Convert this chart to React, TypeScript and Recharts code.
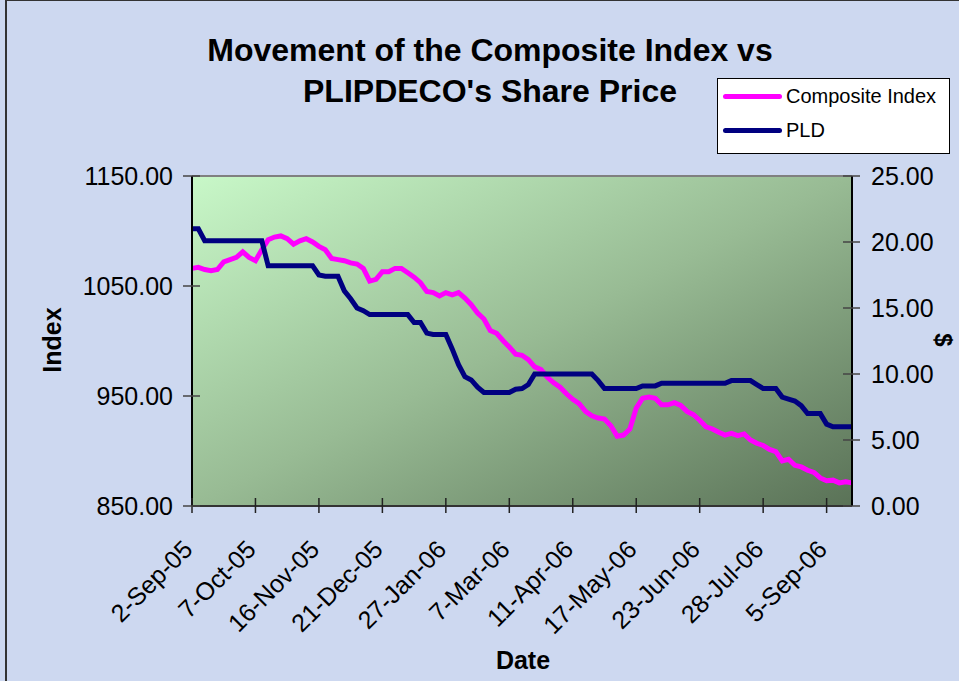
import React from "react";
import {
  LineChart,
  Line,
  XAxis,
  YAxis,
  CartesianGrid,
  ReferenceLine,
} from "recharts";

// values, one per plotted step
const compositeIndex = [
  1066, 1067, 1065, 1064, 1065, 1072, 1074, 1076, 1081, 1076,
  1073, 1083, 1092, 1094.5, 1095.5, 1093, 1088, 1091, 1093, 1090,
  1086, 1083, 1075, 1074, 1073, 1071, 1070, 1066, 1054.5, 1056,
  1063, 1063, 1066, 1066, 1062, 1058, 1053, 1045, 1044, 1041,
  1044, 1042, 1044, 1039, 1033, 1025.5, 1020, 1009.5, 1007, 1000.5,
  994.5, 988, 987, 983, 976.5, 974, 967, 962, 958, 952,
  947, 943, 936, 932, 930, 929, 923, 913.5, 914.5, 920,
  939, 948, 949, 948, 942, 942, 944, 941.5, 936, 933,
  928, 922, 920, 917, 914.5, 916, 914, 915.5, 910, 907,
  905, 901.5, 899.5, 891, 892.5, 887, 885.5, 882.5, 880.5, 875.5,
  873, 873.5, 871, 872, 871,
];

const pld = [
  21.0, 21.0, 20.1, 20.1, 20.1, 20.1, 20.1, 20.1, 20.1, 20.1,
  20.1, 20.1, 18.2, 18.2, 18.2, 18.2, 18.2, 18.2, 18.2, 18.2,
  17.5, 17.4, 17.4, 17.4, 16.3, 15.7, 15.0, 14.8, 14.5, 14.5,
  14.5, 14.5, 14.5, 14.5, 14.5, 13.9, 13.9, 13.1, 13.0, 13.0,
  13.0, 11.9, 10.7, 9.8, 9.55, 9.0, 8.6, 8.6, 8.6, 8.6,
  8.6, 8.85, 8.9, 9.2, 10.0, 10.0, 10.0, 10.0, 10.0, 10.0,
  10.0, 10.0, 10.0, 10.0, 9.5, 8.9, 8.9, 8.9, 8.9, 8.9,
  8.9, 9.1, 9.1, 9.1, 9.3, 9.3, 9.3, 9.3, 9.3, 9.3,
  9.3, 9.3, 9.3, 9.3, 9.3, 9.5, 9.5, 9.5, 9.5, 9.2,
  8.9, 8.9, 8.9, 8.25, 8.1, 7.95, 7.6, 7.0, 7.0, 7.0,
  6.2, 6.0, 6.0, 6.0, 6.0,
];

const xTickLabels = [
  "2-Sep-05",
  "7-Oct-05",
  "16-Nov-05",
  "21-Dec-05",
  "27-Jan-06",
  "7-Mar-06",
  "11-Apr-06",
  "17-May-06",
  "23-Jun-06",
  "28-Jul-06",
  "5-Sep-06",
];
const xTickStep = 10;
const leftTicks = [850, 950, 1050, 1150];
const rightTicks = [0, 5, 10, 15, 20, 25];

const data = compositeIndex.map((v, i) => ({ i, ci: v, pld: pld[i] }));
const xTicks = xTickLabels.map((_, k) => k * xTickStep);

const FONT = "'Liberation Sans', Arial, sans-serif";

const XTick = (props: any) => {
  const { x, y, payload } = props;
  const label = xTickLabels[Math.round(payload.value / xTickStep)];
  const ax = x + 2;
  const ay = y + 45;
  return (
    <g>
      <line x1={x} x2={x} y1={y - 8} y2={y + 7} stroke="#222" strokeWidth={1.5} />
      <text
        x={ax}
        y={ay}
        transform={`rotate(-45 ${ax} ${ay})`}
        textAnchor="end"
        fontSize={25}
        fontFamily={FONT}
        fill="#000"
      >
        {label}
      </text>
    </g>
  );
};

const LeftTick = (props: any) => {
  const { x, y, payload } = props;
  return (
    <g>
      <line x1={x - 9} x2={x + 8} y1={y} y2={y} stroke="#444" strokeWidth={1.5} />
      <text
        x={x - 19}
        y={y}
        textAnchor="end"
        dominantBaseline="central"
        fontSize={25}
        fontFamily={FONT}
        fill="#000"
      >
        {Number(payload.value).toFixed(2)}
      </text>
    </g>
  );
};

const RightTick = (props: any) => {
  const { x, y, payload } = props;
  return (
    <g>
      <line x1={x - 9} x2={x + 8} y1={y} y2={y} stroke="#444" strokeWidth={1.5} />
      <text
        x={x + 19}
        y={y}
        textAnchor="start"
        dominantBaseline="central"
        fontSize={25}
        fontFamily={FONT}
        fill="#000"
      >
        {Number(payload.value).toFixed(2)}
      </text>
    </g>
  );
};

export default function App() {
  return (
    <div
      style={{
        position: "absolute",
        left: 0,
        top: 0,
        width: 959,
        height: 681,
        background: "#cdd8f0",
        fontFamily: FONT,
        overflow: "hidden",
      }}
    >
      <div
        style={{
          position: "absolute",
          left: 5,
          top: 0,
          width: 960,
          height: 690,
          borderLeft: "2px solid #333",
          borderTop: "1px solid #333",
        }}
      />
      <LineChart
        width={959}
        height={681}
        data={data}
        margin={{ top: 176, right: 27, left: 112, bottom: 75 }}
      >
        <defs>
          <linearGradient id="plotBg" x1="0" y1="0" x2="1" y2="1">
            <stop offset="0%" stopColor="#c8f8c8" />
            <stop offset="50%" stopColor="#98bb94" />
            <stop offset="100%" stopColor="#5a7257" />
          </linearGradient>
        </defs>
        <CartesianGrid
          yAxisId="left"
          horizontal={false}
          vertical={false}
          fill="url(#plotBg)"
          fillOpacity={1}
        />
        <XAxis
          dataKey="i"
          type="number"
          domain={[0, compositeIndex.length - 1]}
          ticks={xTicks}
          interval={0}
          height={100}
          tickSize={0}
          tickMargin={0}
          tickLine={false}
          axisLine={{ stroke: "#333", strokeWidth: 2 }}
          tick={XTick}
        />
        <YAxis
          yAxisId="left"
          domain={[850, 1150]}
          ticks={leftTicks}
          width={80}
          tickSize={0}
          tickMargin={0}
          tickLine={false}
          axisLine={{ stroke: "#000", strokeWidth: 2 }}
          tick={LeftTick}
        />
        <YAxis
          yAxisId="right"
          orientation="right"
          domain={[0, 25]}
          ticks={rightTicks}
          width={80}
          tickSize={0}
          tickMargin={0}
          tickLine={false}
          axisLine={{ stroke: "#000", strokeWidth: 2 }}
          tick={RightTick}
        />
        <ReferenceLine yAxisId="left" y={1150} stroke="#808080" strokeWidth={2} />
        <Line
          yAxisId="left"
          type="linear"
          dataKey="ci"
          stroke="#ff00ff"
          strokeWidth={5}
          dot={false}
          isAnimationActive={false}
        />
        <Line
          yAxisId="right"
          type="linear"
          dataKey="pld"
          stroke="#000080"
          strokeWidth={5}
          dot={false}
          isAnimationActive={false}
        />
      </LineChart>

      <div
        style={{
          position: "absolute",
          left: 190,
          top: 30,
          width: 600,
          textAlign: "center",
          fontSize: 32,
          fontWeight: "bold",
          lineHeight: "41px",
          color: "#000",
        }}
      >
        Movement of the Composite Index vs
        <br />
        PLIPDECO's Share Price
      </div>

      <div
        style={{
          position: "absolute",
          left: 717,
          top: 78,
          width: 231,
          height: 74,
          background: "#fff",
          border: "1px solid #000",
        }}
      >
        {[
          { name: "Composite Index", color: "#ff00ff", cy: 17 },
          { name: "PLD", color: "#000080", cy: 51 },
        ].map((it) => (
          <div key={it.name}>
            <div
              style={{
                position: "absolute",
                left: 5,
                top: it.cy - 2.5,
                width: 59,
                height: 5,
                borderRadius: 3,
                background: it.color,
              }}
            />
            <div
              style={{
                position: "absolute",
                left: 68,
                top: it.cy - 12,
                fontSize: 20,
                lineHeight: "24px",
                whiteSpace: "nowrap",
              }}
            >
              {it.name}
            </div>
          </div>
        ))}
      </div>

      <div
        style={{
          position: "absolute",
          left: 52,
          top: 340,
          transform: "translate(-50%, -50%) rotate(-90deg)",
          fontSize: 25,
          fontWeight: "bold",
        }}
      >
        Index
      </div>
      <div
        style={{
          position: "absolute",
          left: 943,
          top: 340,
          transform: "translate(-50%, -50%) rotate(90deg)",
          fontSize: 24,
          fontWeight: "bold",
          lineHeight: "24px",
        }}
      >
        $
      </div>
      <div
        style={{
          position: "absolute",
          left: 523,
          top: 660,
          transform: "translate(-50%, -50%)",
          fontSize: 25,
          fontWeight: "bold",
        }}
      >
        Date
      </div>
    </div>
  );
}
